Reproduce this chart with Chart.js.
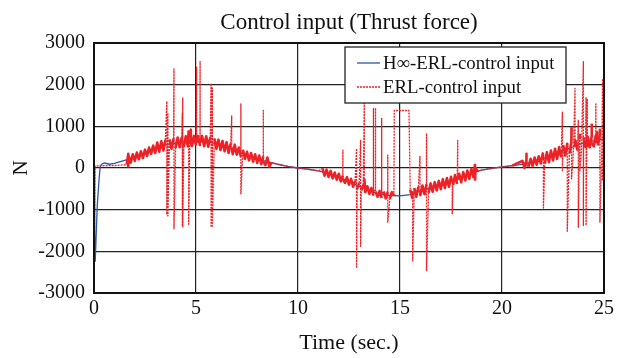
<!DOCTYPE html>
<html><head><meta charset="utf-8">
<script src="https://cdn.jsdelivr.net/npm/chart.js@4/dist/chart.umd.min.js"></script>
<style>html,body{margin:0;padding:0;background:#fff}</style>
</head><body>
<canvas id="c" width="626" height="358"></canvas>
<script>
// ---------- data ----------
const xTicks = [0, 5, 10, 15, 20, 25];
const yTicks = [-3000, -2000, -1000, 0, 1000, 2000, 3000];

// H-infinity ERL control input (blue)
const hinfT = [0,0.03,0.06,0.1,0.16,0.25,0.31,0.4,0.52,0.75,1.0,1.5,2,2.5,3,3.5,4,4.5,5,5.5,6,6.5,7,7.5,8,8.5,9,9.5,10,10.5,11,11.5,12,12.5,13,13.5,14,14.5,15,15.5,16,16.5,17,17.5,18,18.5,19,19.5,20,20.5,21,21.5,22,22.5,23,23.5,24,24.5,25];
const hinfU = [0,-1500,-2250,-1700,-900,-260,50,100,120,90,110,185,260,350,480,550,600,640,655,640,580,500,420,290,215,155,90,40,0,-30,-70,-135,-220,-320,-440,-545,-630,-660,-668,-640,-540,-480,-400,-320,-230,-130,-50,-10,25,55,85,140,216,310,416,510,600,650,696];

// ERL control input (red): quiet parts
const erlT = [0,0.02,0.05,0.5,1.0,1.6, 9.0,9.5,10,10.5,11.0, 14.72,15.44, 19.0,19.5,20,20.5];
const erlU = [0,-1900,50,55,60,80, 90,40,0,-30,-70, 1380,1380, -50,-10,25,55];

// ERL control input: chattering bands, sampled every 0.1 s
const bandStep = 0.1;
const bandStart = [1.7, 11.2, 15.5, 21.0];
const bandA = [290,130,330,170,370,210,400,240,440,290,490,340,540,360,610,390,640,420,670,440,690,460,710,480,730,500,740,510,760,520,770,530,770,540,770,530,770,520,760,510,740,480,710,460,680,430,650,400,620,360,590,330,560,320,490,270,440,220,390,180,360,150,330,120,300,90,280,70,250,40,130];
const bandB = [-10,-185,-40,-215,-70,-250,-110,-280,-140,-320,-180,-360,-220,-400,-260,-450,-310,-500,-360,-540,-400,-580,-440,-620,-480,-660,-520,-690,-550,-720,-560,-730,-570,-740,-580,-665];
const bandC = [-520,-720,-480,-690,-450,-650,-420,-630,-390,-600,-370,-570,-340,-540,-310,-510,-270,-480,-240,-450,-210,-410,-170,-380,-140,-340,-100,-300,-60,-260,-20,-220,10,-80];
const bandD = [170,2,190,30,220,50,250,80,280,110,350,100,380,140,420,180,460,220,500,260,550,300,580,340,620,380,660,420,690,450,730,480,750,500,770,520,790,540,810,560,760];

// ERL control input: spikes (time, top, bottom)
const spikeT      = [1.68,3.57,3.62,3.92,4.33,4.35,4.64,4.75,5.03,5.2,5.74,5.8,6.75,7.2,8.3,12.2,12.87,13.07,13.25,13.7,13.8,14.1,14.4,15.62,15.98,16.3,17.56,17.83,18.68,21.2,22.03,22.96,23.2,23.41,23.58,23.74,23.82,23.99,24.12,24.18,24.4,24.6,24.67,24.8,24.93];
const spikeTop    = [340,1600,1300,2380,1320,1680,900,920,2420,2560,2030,1920,1250,1540,1380,430,470,660,1560,1430,1440,1200,310,-560,280,830,-340,660,100,340,220,1340,440,980,1910,1140,820,2550,1700,1660,1060,1540,860,940,2140];
const spikeBottom = [40,-1120,-1150,-1460,-1400,-1420,-1350,600,600,600,-1420,-1400,500,-620,150,-260,-2380,-1880,-250,-560,-560,-620,-1300,-2230,-540,-2460,-1100,-280,-300,60,-960,-60,-1520,-260,500,-1420,-60,-1380,-1380,500,600,600,600,-1300,-300];

// ---------- build series ----------
const hinfData = hinfT.map((t, i) => ({x: t, y: hinfU[i]}));
let erlPts = [];
erlT.forEach((t, i) => erlPts.push({x: t, y: erlU[i], k: erlPts.length}));
[bandA, bandB, bandC, bandD].forEach((band, b) => {
  band.forEach((v, i) => erlPts.push({x: +(bandStart[b] + i * bandStep).toFixed(2), y: v, k: erlPts.length}));
});
spikeT.forEach((t, i) => {
  erlPts.push({x: t, y: spikeTop[i], k: erlPts.length});
  erlPts.push({x: t, y: spikeBottom[i], k: erlPts.length});
});
erlPts.sort((a, b) => (a.x - b.x) || (a.k - b.k));
const erlData = erlPts.map(p => ({x: p.x, y: p.y}));

const FONT = "'Liberation Serif', 'Times New Roman', serif";

const frame = {
  id: 'frame',
  afterDatasetsDraw(chart) {
    const {ctx, chartArea: a} = chart;
    ctx.save();
    ctx.strokeStyle = '#111';
    ctx.lineWidth = 2;
    ctx.strokeRect(a.left, a.top, a.right - a.left, a.bottom - a.top);
    ctx.restore();
  }
};

const boxLegend = {
  id: 'boxLegend',
  afterDatasetsDraw(chart, args, o) {
    const ctx = chart.ctx;
    ctx.save();
    ctx.fillStyle = '#fff';
    ctx.fillRect(o.x, o.y, o.w, o.h);
    ctx.strokeStyle = '#222';
    ctx.lineWidth = 1.3;
    ctx.strokeRect(o.x, o.y, o.w, o.h);
    o.order.forEach((di, r) => {
      const ds = chart.data.datasets[di];
      const y = o.y + o.rowY[r];
      ctx.strokeStyle = ds.borderColor;
      ctx.lineWidth = ds.borderWidth;
      ctx.setLineDash(ds.borderDash || []);
      ctx.beginPath();
      ctx.moveTo(o.x + o.line0, y);
      ctx.lineTo(o.x + o.line1, y);
      ctx.stroke();
      ctx.setLineDash([]);
      ctx.fillStyle = '#111';
      ctx.font = o.font;
      ctx.textBaseline = 'middle';
      ctx.textAlign = 'left';
      ctx.fillText(ds.label, o.x + o.textX, y + 1);
    });
    ctx.restore();
  }
};

const dyPx = c => Math.abs(c.p1.y - c.p0.y);

new Chart(document.getElementById('c'), {
  type: 'line',
  data: {
    datasets: [
      {label: 'H\u221e-ERL-control input', data: hinfData, borderColor: '#2a56b0', borderWidth: 1.3,
       pointRadius: 0, tension: 0, fill: false, order: 1},
      {label: 'ERL-control input', data: erlData, borderColor: '#ee2226', borderWidth: 1.3,
       borderDash: [2, 1], borderJoinStyle: 'round', pointRadius: 0, tension: 0, fill: false, order: 0,
       segment: {
         borderDash: c => dyPx(c) > 16 ? [2, 1] : (dyPx(c) > 2.5 ? [] : [2, 1]),
         borderWidth: c => dyPx(c) > 16 ? 1.3 : (dyPx(c) > 2.5 ? 2.6 : 1.3)
       }}
    ]
  },
  options: {
    responsive: false, animation: false, devicePixelRatio: 1, parsing: false, normalized: true,
    layout: {padding: {left: 0, right: 22, top: 0, bottom: 0}},
    plugins: {
      legend: {display: false},
      tooltip: {enabled: false},
      title: {display: true, fullSize: false, text: 'Control input (Thrust force)', color: '#111',
              font: {family: FONT, size: 23, weight: 'normal', lineHeight: 1.2},
              padding: {top: 9, bottom: 6.4}},
      boxLegend: {x: 345, y: 47, w: 221, h: 56, rowY: [16, 40], line0: 12, line1: 35, textX: 38,
                  order: [0, 1], font: "18.8px 'Liberation Serif', 'Times New Roman', serif"}
    },
    scales: {
      x: {
        type: 'linear', min: 0, max: 25,
        afterBuildTicks: s => { s.ticks = xTicks.map(v => ({value: v})); },
        afterFit: s => { s.height = 65; },
        grid: {color: '#222', lineWidth: 1.2, drawTicks: false},
        border: {display: false},
        ticks: {color: '#111', font: {family: FONT, size: 20}, padding: 4, maxRotation: 0, autoSkip: false},
        title: {display: true, text: 'Time (sec.)', color: '#111', font: {family: FONT, size: 22},
                padding: {top: 0, bottom: 2}}
      },
      y: {
        type: 'linear', min: -3000, max: 3000,
        afterBuildTicks: s => { s.ticks = yTicks.map(v => ({value: v})); },
        afterFit: s => { s.width = 94; },
        grid: {color: '#222', lineWidth: 1.2, drawTicks: false},
        border: {display: false},
        ticks: {color: '#111', font: {family: FONT, size: 20}, padding: 9, callback: v => String(v)},
        title: {display: true, text: 'N', color: '#111', font: {family: FONT, size: 21},
                padding: {top: 8.4, bottom: 0}}
      }
    }
  },
  plugins: [frame, boxLegend]
});
</script>
</body></html>
